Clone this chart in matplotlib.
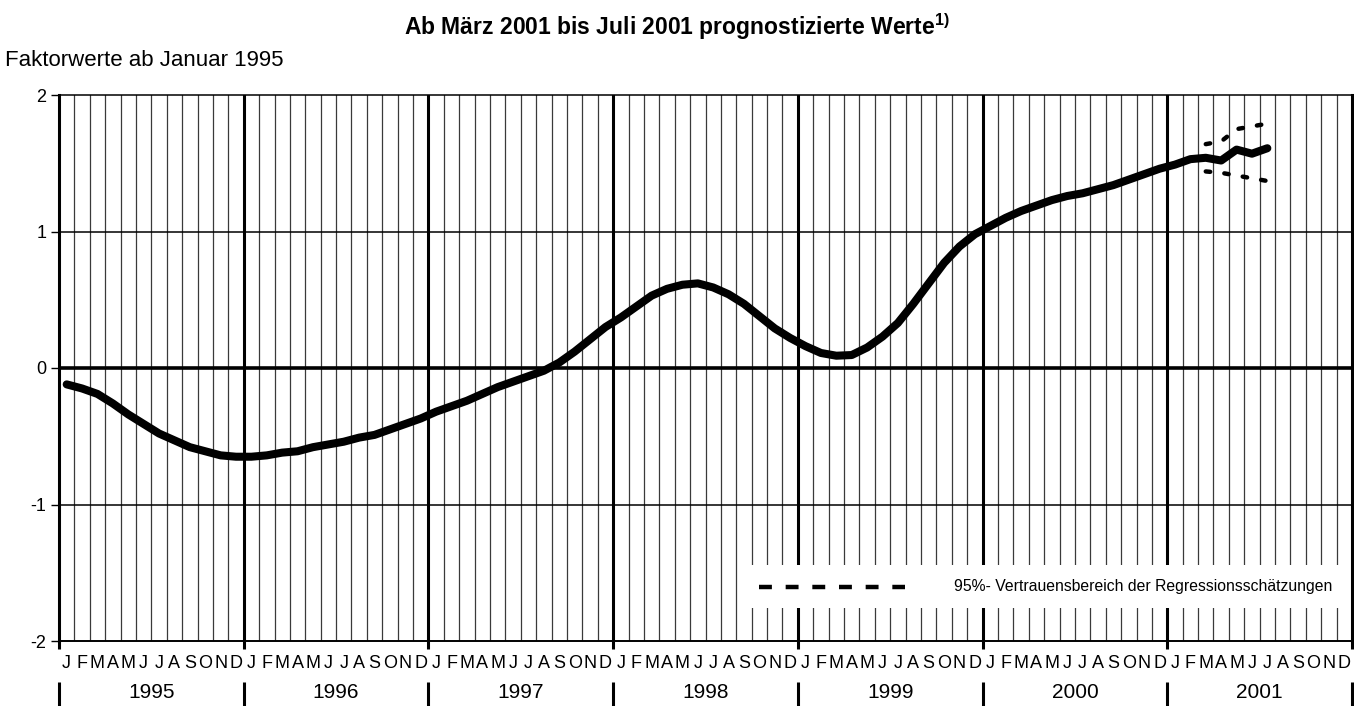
import matplotlib
matplotlib.use('Agg')
import matplotlib.pyplot as plt
from matplotlib.patches import Rectangle
from matplotlib.lines import Line2D
import matplotlib.transforms as mtransforms

plt.rcParams['font.family'] = ['Liberation Sans', 'DejaVu Sans']
plt.rcParams['mathtext.fontset'] = 'custom'
plt.rcParams['mathtext.rm'] = 'Liberation Sans'
plt.rcParams['mathtext.bf'] = 'Liberation Sans:bold'

# Daten: monatliche Faktorwerte Jan 1995 - Jul 2001
years = ['1995', '1996', '1997', '1998', '1999', '2000', '2001']
months = ['J', 'F', 'M', 'A', 'M', 'J', 'J', 'A', 'S', 'O', 'N', 'D']
werte = [
    -0.12, -0.15, -0.19, -0.26, -0.34, -0.41, -0.48, -0.53, -0.58, -0.61, -0.64, -0.65,
    -0.65, -0.64, -0.62, -0.61, -0.58, -0.56, -0.54, -0.51, -0.49, -0.45, -0.41, -0.37,
    -0.32, -0.28, -0.24, -0.19, -0.14, -0.10, -0.06, -0.02, 0.04, 0.12, 0.21, 0.30,
    0.37, 0.45, 0.53, 0.58, 0.61, 0.62, 0.59, 0.54, 0.47, 0.38, 0.29, 0.22,
    0.16, 0.11, 0.09, 0.095, 0.15, 0.23, 0.33, 0.47, 0.62, 0.77, 0.89, 0.98,
    1.04, 1.10, 1.15, 1.19, 1.23, 1.26, 1.28, 1.31, 1.34, 1.38, 1.42, 1.46,
    1.49, 1.53, 1.54, 1.52, 1.60, 1.57, 1.61,
]
# 95%-Vertrauensbereich Maerz - Juli 2001
prog_start = 74
obere_grenze = [1.64, 1.66, 1.75, 1.77, 1.79]
untere_grenze = [1.44, 1.43, 1.41, 1.39, 1.37]

n_months = 12 * len(years)
xs = [i + 0.5 for i in range(len(werte))]
xs_prog = [prog_start + i + 0.5 for i in range(len(obere_grenze))]

W, H = 1354, 706
fig = plt.figure(figsize=(W / 100, H / 100), dpi=100)
ax = fig.add_axes([59 / W, 1 - 641 / H, 1293 / W, 546 / H])
ax.set_xlim(0, n_months)
ax.set_ylim(-2, 2)

# Gitter
for m in range(1, n_months):
    if m % 12 == 0:
        ax.axvline(m, color='black', lw=2.2, zorder=1)
    else:
        ax.axvline(m, color='#3a3a3a', lw=0.9, zorder=1)
for yv in [-1, 1]:
    ax.axhline(yv, color='black', lw=1.1, zorder=1)
ax.axhline(0, color='black', lw=2.6, zorder=1.5)

# Legende (weisser Kasten)
ax.add_patch(Rectangle((44.6 / n_months, 0.060), 1 - 44.6 / n_months, 0.079,
                       transform=ax.transAxes, facecolor='white', edgecolor='none', zorder=2))
ax.add_line(Line2D([0.541, 0.654], [0.099, 0.099], transform=ax.transAxes,
                   color='black', lw=3.2, dashes=(2.9, 3.1), zorder=3))
ax.text(0.692, 0.099, '95%- Vertrauensbereich der Regressionsschätzungen',
        transform=ax.transAxes, fontsize=11.3, va='center', ha='left', zorder=3)

# Kurven
ax.plot(xs, werte, color='black', lw=5.8, solid_capstyle='round',
        solid_joinstyle='round', zorder=4)
ax.plot(xs_prog, obere_grenze, color='black', lw=3.2, dashes=(1.0, 3.2),
        dash_capstyle='round', zorder=4)
ax.plot(xs_prog, untere_grenze, color='black', lw=3.2, dashes=(1.0, 3.2),
        dash_capstyle='round', zorder=4)

# Achsen
for side in ['left', 'right']:
    ax.spines[side].set_linewidth(2.2)
ax.spines['top'].set_linewidth(1.1)
ax.spines['bottom'].set_linewidth(1.4)
for sp in ax.spines.values():
    sp.set_zorder(3)

ax.set_yticks([-2, -1, 0, 1, 2])
ax.set_yticklabels(['-2', '-1', '0', '1', '2'], fontsize=13)
ax.tick_params(axis='y', length=6, width=1, pad=3)
ax.set_xticks(range(0, n_months + 1, 12))
ax.set_xticklabels([])
ax.tick_params(axis='x', length=6, width=2.2)

trans = mtransforms.blended_transform_factory(ax.transData, ax.transAxes)
for i in range(n_months):
    ax.text(i + 0.5, -0.042, months[i % 12], transform=trans, ha='center',
            va='center', fontsize=13, clip_on=False)
for k, yr in enumerate(years):
    ax.text(12 * k + 6, -0.095, yr, transform=trans, ha='center', va='center',
            fontsize=15, clip_on=False)
for k in range(len(years) + 1):
    ax.plot([12 * k, 12 * k], [-0.075, -0.125], transform=trans, color='black',
            lw=2.2, clip_on=False, solid_capstyle='butt')

fig.text(0.5, 1 - 27 / H, r'Ab März 2001 bis Juli 2001 prognostizierte Werte$^{\mathbf{1)}}$',
         ha='center', va='center', fontsize=16.5, fontweight='bold')
fig.text(5 / W, 1 - 60 / H, 'Faktorwerte ab Januar 1995', ha='left', va='center', fontsize=16)

fig.savefig('out.png', dpi=100)
